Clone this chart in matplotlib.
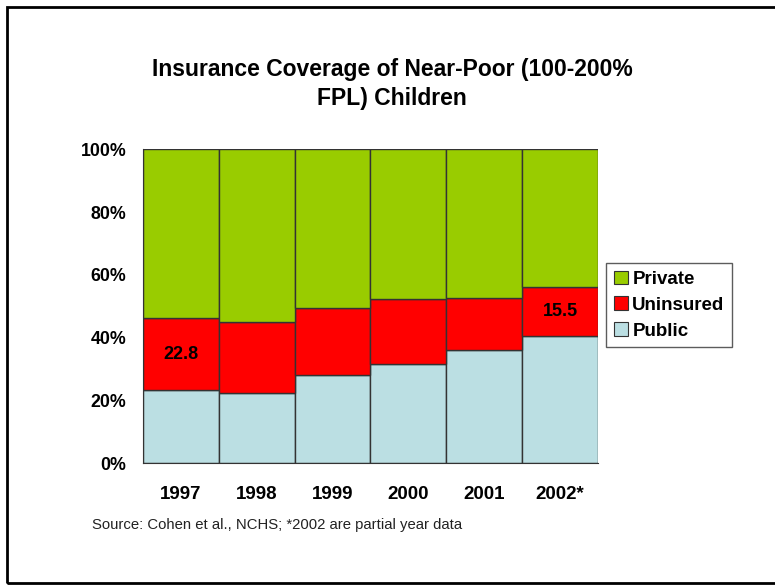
import numpy as np
import matplotlib
matplotlib.use("Agg")
from matplotlib import pyplot as plt
from matplotlib.patches import Rectangle

#---------------- Donnees ----------------

years = ["1997", "1998", "1999", "2000", "2001", "2002*"]
public = [23.4, 22.3, 28.1, 31.5, 36.0, 40.6]
uninsured = [22.8, 22.6, 21.3, 20.8, 16.7, 15.5]
private = [100 - p - u for p, u in zip(public, uninsured)]
shown_labels = {0: "22.8", 5: "15.5"}

c_public = "#bbdfe3"
c_unins = "#ff0000"
c_private = "#99cc00"

plt.rcParams['font.family'] = ['Liberation Sans', 'DejaVu Sans']

fig = plt.figure(figsize=(7.75, 5.88), dpi=100)
ax = fig.add_axes([143 / 775, 1 - 463.3 / 588, 455 / 775, 314 / 588])

x = np.arange(len(years))
kw = dict(width=1.0, edgecolor="#333333", linewidth=1.0)
ax.bar(x, public, color=c_public, label="Public", **kw)
ax.bar(x, uninsured, bottom=public, color=c_unins, label="Uninsured", **kw)
bott = [p + u for p, u in zip(public, uninsured)]
ax.bar(x, private, bottom=bott, color=c_private, label="Private", **kw)

for i, txt in shown_labels.items():
    ax.text(x[i], public[i] + uninsured[i] / 2, txt, ha="center", va="center",
            fontsize=13, fontweight="bold", color="black")

ax.set_xlim(-0.5, len(years) - 0.5)
ax.set_ylim(0, 100)
ax.set_yticks(np.arange(0, 101, 20))
ax.set_yticklabels(["%d%%" % v for v in range(0, 101, 20)],
                   fontsize=12.8, fontweight="bold")
ax.set_xticks(x)
ax.set_xticklabels(years, fontsize=13.5, fontweight="bold")
ax.tick_params(axis="y", length=0, pad=12)
ax.tick_params(axis="x", length=0, pad=16)
for s in ["top", "right"]:
    ax.spines[s].set_visible(False)
ax.spines["left"].set_color("#333333")
ax.spines["bottom"].set_color("#333333")

# legende dans l'ordre Private / Uninsured / Public
h, l = ax.get_legend_handles_labels()
leg = fig.legend(h[::-1], l[::-1], loc="upper left",
                 bbox_to_anchor=(606 / 775, 1 - 263 / 588),
                 prop={"weight": "bold", "size": 13.5}, frameon=True,
                 fancybox=False, edgecolor="#333333", borderpad=0.4,
                 handlelength=0.75, handleheight=0.75, handletextpad=0.25,
                 labelspacing=0.45, borderaxespad=0)
leg.get_frame().set_linewidth(1.0)
for p in leg.get_patches():
    p.set_edgecolor("#333333")
    p.set_linewidth(0.8)

fig.text(392 / 775, 1 - 84 / 588,
         "Insurance Coverage of Near-Poor (100-200%\nFPL) Children",
         ha="center", va="center", fontsize=16.5, fontweight="bold",
         linespacing=1.3)

fig.text(92 / 775, 1 - 525 / 588,
         "Source: Cohen et al., NCHS; *2002 are partial year data",
         ha="left", va="center", fontsize=10.7, color="#222222")

# cadre exterieur
fig.patches.append(Rectangle((7 / 775, 1 - 583 / 588), 1.2, 576 / 588,
                             transform=fig.transFigure, fill=False,
                             edgecolor="black", linewidth=2))

fig.savefig("out.png", dpi=100)
